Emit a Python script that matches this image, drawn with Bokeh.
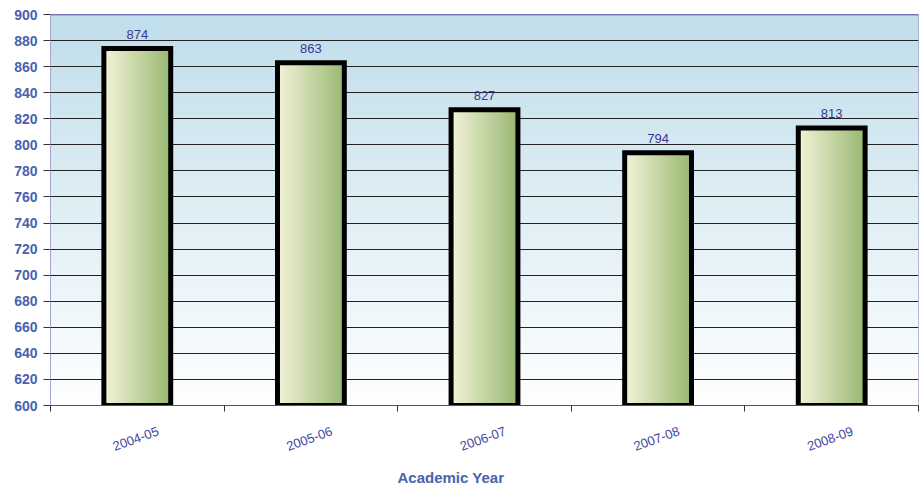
import numpy as np
from bokeh.plotting import figure
from bokeh.models import Range1d, FixedTicker, Span, Title, ColumnDataSource
from bokeh.core.properties import value
from bokeh.embed import file_html
from bokeh.resources import INLINE

# ---- data ----
years = ["2004-05", "2005-06", "2006-07", "2007-08", "2008-09"]
counts = [874, 863, 827, 794, 813]
y_ticks = [600, 620, 640, 660, 680, 700, 720, 740, 760, 780, 800, 820, 840, 860, 880, 900]
x_title = "Academic Year"

FONT = "Liberation Sans"
n = len(years)
y_min, y_max = y_ticks[0], y_ticks[-1]
xs = [i + 0.5 for i in range(n)]
bar_w = 0.385
label_shift = 0.12

p = figure(width=920, height=494, x_range=Range1d(0, n), y_range=Range1d(y_min, y_max),
           output_backend="svg", toolbar_location=None,
           min_border_left=50, min_border_right=2, min_border_top=14, min_border_bottom=89)
p.background_fill_color = "white"
p.border_fill_color = "white"
p.outline_line_color = "#a4a4d4"
p.outline_line_width = 1

# background vertical gradient (light blue top -> white bottom)
rows = 256
bg = np.zeros((rows, 1), dtype=np.uint32)
bgv = bg.view(dtype=np.uint8).reshape((rows, 1, 4))
top_c = np.array([0xc0, 0xde, 0xeb], dtype=float)
bot_c = np.array([0xff, 0xff, 0xff], dtype=float)
t = np.linspace(0, 1, rows)[:, None]
col = bot_c + (top_c - bot_c) * t
for k in range(3):
    bgv[:, 0, k] = col[:, k].astype(np.uint8)
bgv[:, 0, 3] = 255
p.image_rgba(image=[bg], x=0, y=y_min, dw=n, dh=y_max - y_min, level="image")

# bar horizontal gradient (cream left -> green right)
cols = 64
bar_img = np.zeros((1, cols), dtype=np.uint32)
biv = bar_img.view(dtype=np.uint8).reshape((1, cols, 4))
left_c = np.array([0xf4, 0xf4, 0xd8], dtype=float)
right_c = np.array([0x98, 0xb8, 0x72], dtype=float)
s = np.linspace(0, 1, cols)[:, None]
bc = left_c + (right_c - left_c) * s
for k in range(3):
    biv[0, :, k] = bc[:, k].astype(np.uint8)
biv[0, :, 3] = 255

src = ColumnDataSource(dict(
    x=[xv - bar_w / 2 for xv in xs],
    xc=xs,
    y=[y_min] * n,
    dh=[c - y_min for c in counts],
    top=counts,
    image=[bar_img] * n,
    lbl=[str(c) for c in counts],
))
p.image_rgba(image="image", x="x", y="y", dw=bar_w, dh="dh", source=src)
p.vbar(x="xc", top="top", bottom=y_min, width=bar_w, source=src,
       fill_color=None, line_color="black", line_width=5, line_join="miter")

p.text(x="xc", y="top", text="lbl", source=src, y_offset=-14,
       text_align="center", text_baseline="alphabetic",
       text_font=value(FONT), text_font_size="13px", text_color="#383894")

# top border line
p.add_layout(Span(location=y_max, dimension="width", line_color="#3a3a9a", line_width=1.5))

# grid
p.xgrid.visible = False
p.ygrid.ticker = FixedTicker(ticks=y_ticks)
p.ygrid.grid_line_color = "#222222"
p.ygrid.grid_line_width = 1

# y axis
ya = p.yaxis[0]
ya.ticker = FixedTicker(ticks=y_ticks)
ya.axis_line_color = "#a4a4d4"
ya.major_tick_line_color = "#333333"
ya.major_tick_out = 7
ya.major_tick_in = 0
ya.minor_tick_line_color = None
ya.major_label_standoff = 6
ya.major_label_text_font = FONT
ya.major_label_text_font_size = "14px"
ya.major_label_text_font_style = "bold"
ya.major_label_text_color = "#4862ae"

# x axis
xa = p.xaxis[0]
label_ticks = [xv + label_shift for xv in xs]
xa.ticker = FixedTicker(ticks=label_ticks, minor_ticks=list(range(n + 1)))
xa.major_label_overrides = {tk: yr for tk, yr in zip(label_ticks, years)}
xa.axis_line_color = "#555555"
xa.major_tick_line_color = None
xa.major_tick_out = 0
xa.major_tick_in = 0
xa.minor_tick_line_color = "#333333"
xa.minor_tick_out = 6
xa.minor_tick_in = 0
xa.major_label_orientation = 0.35
xa.major_label_standoff = 19
xa.major_label_text_font = FONT
xa.major_label_text_font_size = "13px"
xa.major_label_text_color = "#4646a0"

p.add_layout(Title(text=x_title, align="left", offset=347, standoff=17,
                   text_font=FONT, text_font_size="15px", text_font_style="bold",
                   text_color="#4862ae"), "below")

open("out.html", "w").write(file_html(p, INLINE))
